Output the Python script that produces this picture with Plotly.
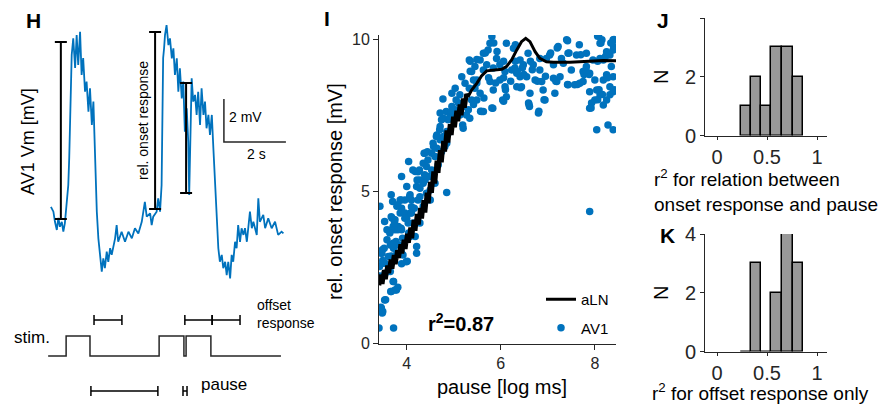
import plotly.graph_objects as go

W, H = 887, 404
PAGE_PAD = 8  # default body margin of the html page
FONT = "Liberation Sans, Arial, Helvetica, sans-serif"
BLUE = "#0072BD"
AXC = "#262626"

# ---------------- H: example AV1 recording (time [s], Vm rel. baseline [mV])
trace_t = [0.03, 0.11, 0.16, 0.22, 0.27, 0.32, 0.38, 0.43, 0.48, 0.52, 0.56, 0.59,
           0.62, 0.65, 0.67, 0.70, 0.75, 0.81, 0.86, 0.91, 0.97, 1.02, 1.07, 1.13,
           1.18, 1.24, 1.29, 1.35, 1.40, 1.43, 1.47, 1.51, 1.56, 1.61, 1.67, 1.72,
           1.77, 1.83, 1.88, 1.94, 1.99, 2.10, 2.15, 2.20, 2.31, 2.42, 2.53, 2.64,
           2.74, 2.85, 2.96, 3.06, 3.12, 3.23, 3.28, 3.33, 3.44, 3.49, 3.55, 3.60,
           3.63, 3.65, 3.68, 3.71, 3.76, 3.82, 3.87, 3.93, 3.98, 4.03, 4.09, 4.14,
           4.19, 4.25, 4.30, 4.35, 4.41, 4.46, 4.49, 4.54, 4.57, 4.62, 4.68, 4.73,
           4.78, 4.84, 4.89, 4.95, 5.00, 5.05, 5.11, 5.16, 5.22, 5.27, 5.32, 5.38,
           5.43, 5.48, 5.54, 5.59, 5.65, 5.70, 5.75, 5.81, 5.86, 5.91, 5.97, 6.02,
           6.07, 6.13, 6.18, 6.24, 6.29, 6.35, 6.45, 6.51, 6.56, 6.67, 6.72, 6.77,
           6.88, 6.94, 7.04, 7.15, 7.26, 7.36, 7.47, 7.53]
trace_vm = [0.70, 0.48, 0.01, -0.37, 0.19, -0.22, 0.01, -0.45, -0.05, 0.48, 1.10, 1.72,
            2.98, 5.30, 6.84, 7.77, 8.54, 7.16, 8.70, 7.30, 8.85, 6.84, 7.63, 6.06,
            6.53, 5.13, 6.22, 4.51, 5.60, 3.89, 2.19, 0.48, -0.76, -1.53, -2.31, -1.69,
            -2.15, -1.38, -1.85, -1.22, -1.53, -0.76, -0.14, -0.92, -0.45, -0.92, -0.45, -0.76,
            -0.29, -0.53, 0.01, 0.94, 0.25, 0.40, -0.14, 0.25, 0.48, 1.10, 0.48, 1.72,
            4.51, 7.63, 8.08, 8.70, 9.16, 8.23, 8.54, 7.61, 8.08, 6.84, 7.61, 6.06,
            7.15, 5.75, 6.53, 4.20, 5.29, 3.73, 1.26, 4.20, 6.68, 5.60, 5.91, 4.98,
            6.06, 4.51, 6.22, 4.98, 5.60, 4.36, 4.98, 4.05, 4.98, 3.43, 1.87, 0.01,
            -1.22, -1.85, -1.53, -2.15, -1.85, -2.47, -1.85, -2.62, -1.53, -1.85, -0.92, -1.22,
            -0.14, -0.92, -0.29, -0.60, -0.29, -0.92, 0.48, -0.29, 0.01, -0.60, 1.10, 0.01,
            0.33, -0.29, 0.17, -0.29, 0.01, -0.60, -0.45, -0.53]

# rel. onset response markers: time [s], bottom and top [mV]
onset_t = [0.35, 3.39, 4.39]
onset_lo = [0.14, 0.60, 1.35]
onset_hi = [8.37, 8.84, 6.47]

# scale bar: 2 s / 2 mV
scale_t0, scale_v0, scale_dt, scale_dv = 5.61, 3.72, 2.0, 2.0

# stimulus steps (time [s], on/off)
stim_t = [-0.06, 0.52, 1.29, 3.52, 4.32, 4.39, 5.19, 7.45]
stim_on = [0, 1, 0, 1, 0, 1, 0, 0]
offset_start = [1.42, 4.35, 5.23]
offset_end = [2.32, 5.23, 6.13]
pause_start = [1.32, 4.29]
pause_end = [3.48, 4.42]

# ---------------- I: onset response vs pause
av1_pause = [3.41, 3.72, 3.45, 3.48, 3.55, 3.66, 3.75, 3.81, 3.72, 3.43, 3.42, 3.49, 3.48, 3.52,
             3.61, 3.67, 3.43, 3.67, 3.70, 3.69, 3.69, 3.75, 3.82, 3.89, 3.65, 3.77, 3.84, 3.91,
             3.72, 4.01, 3.89, 3.75, 3.86, 3.89, 3.96, 4.04, 3.89, 4.00, 4.07, 4.10, 4.08, 4.21,
             4.21, 4.07, 4.18, 4.00, 4.14, 4.28, 4.16, 4.28, 4.35, 4.21, 4.18, 4.27, 4.37, 4.44,
             4.53, 4.35, 4.46, 4.39, 4.50, 4.60, 4.67, 4.60, 4.64, 4.71, 4.64, 4.78, 4.85, 4.85,
             4.81, 4.88, 4.93, 4.78, 4.99, 5.03, 4.96, 5.05, 4.77, 5.13, 5.20, 5.19, 5.13, 5.27,
             5.17, 5.24, 5.33, 5.42, 5.49, 5.38, 5.33, 5.45, 5.56, 5.63, 5.77, 5.81, 5.73, 5.63,
             5.77, 5.84, 5.63, 5.83, 5.98, 6.09, 6.12, 6.04, 6.12, 6.27, 6.30, 6.41, 6.44, 6.61,
             6.59, 6.80, 6.94, 6.90, 6.87, 6.73, 6.69, 6.83, 7.04, 7.22, 7.40, 7.43, 7.61, 7.43,
             7.57, 7.68, 7.26, 7.19, 7.75, 7.89, 8.04, 7.89, 8.11, 8.00, 7.93, 7.89, 7.89, 8.04,
             8.28, 8.39, 8.18, 8.25, 8.35, 8.39, 8.32, 8.39, 8.08, 8.15, 8.39, 8.40, 8.25, 8.11,
             7.82, 7.29, 7.12, 6.97, 6.58, 6.48, 6.34, 6.23, 6.09, 5.98, 5.91, 5.84, 5.70, 5.45,
             5.56, 5.38, 5.31, 3.58, 3.58, 3.47, 3.54, 3.79, 3.86, 3.79, 3.96, 4.04, 3.89, 3.65,
             3.54, 4.42, 4.50, 4.28, 4.53, 4.42, 4.57, 4.71, 4.74, 4.85, 4.88, 4.71, 4.71, 4.84,
             4.96, 5.03, 5.10, 5.34, 5.49, 6.41, 6.55, 6.34, 6.62, 6.83, 7.12, 7.15, 7.33, 7.50,
             7.75, 7.82, 7.96, 8.18, 8.32, 8.39, 8.11, 8.00, 8.25, 8.18, 8.32,
             5.85, 6.31, 5.92, 5.67, 5.49, 5.35, 6.06, 6.31, 6.46, 6.63, 6.67, 7.20, 7.06, 7.42,
             7.67, 7.45, 7.70, 8.06, 8.13, 8.34, 8.41, 8.23, 8.06, 5.35, 5.49, 5.74, 5.89, 6.06,
             6.21, 6.35, 6.49, 6.78, 6.95, 7.17, 7.42, 7.63, 7.77, 7.88, 7.81, 8.27, 8.41, 8.09,
             8.16, 8.06, 7.92, 6.06, 6.10, 6.42, 6.60, 6.81, 6.92, 5.64, 5.81, 5.42, 5.57,
             4.13, 4.24, 4.22, 4.38, 4.35, 4.38, 4.45, 4.56, 4.63, 4.70, 4.74, 4.92, 4.95, 5.13,
             5.20, 5.59, 3.88, 4.06, 3.81, 4.10, 3.71, 3.96, 4.10, 3.67, 4.24, 4.28, 4.49, 4.56,
             3.46, 3.49, 3.42, 3.71, 3.67, 3.78, 3.53, 3.46, 3.49, 3.64, 3.81, 3.71, 3.92, 3.99,
             3.53, 3.74, 3.88, 4.03]
av1_onset = [0.50, 0.50, 1.18, 0.99, 1.43, 1.70, 1.75, 1.84, 2.03, 2.21, 2.52, 2.72, 3.07, 3.12,
             2.85, 2.87, 4.50, 4.88, 4.66, 4.11, 3.73, 3.73, 3.84, 3.73, 3.23, 3.34, 3.23, 3.45,
             3.12, 2.69, 2.61, 4.06, 4.28, 4.44, 4.71, 5.98, 5.48, 5.15, 4.88, 4.71, 4.28, 2.96,
             3.18, 3.51, 3.51, 4.11, 3.95, 3.95, 4.44, 4.82, 4.50, 5.15, 5.65, 5.70, 6.25, 6.30,
             6.25, 5.92, 5.48, 5.37, 5.04, 5.26, 5.87, 6.14, 6.41, 6.69, 6.85, 6.80, 4.96, 6.96,
             6.47, 7.35, 7.40, 7.40, 7.51, 7.68, 7.79, 8.00, 8.03, 8.17, 7.79, 7.18, 7.51, 7.51,
             8.77, 8.55, 8.39, 8.66, 8.66, 8.94, 9.32, 9.10, 9.32, 9.54, 9.87, 10.09, 9.65, 8.99,
             8.61, 8.33, 7.62, 7.73, 8.66, 8.44, 8.11, 8.00, 9.87, 9.70, 9.05, 9.32, 8.44, 7.79,
             7.90, 7.57, 8.00, 8.33, 8.61, 8.66, 9.16, 8.99, 9.48, 9.76, 9.98, 9.54, 9.48, 8.50,
             8.50, 8.55, 8.77, 8.61, 8.94, 8.88, 8.33, 8.27, 8.17, 8.00, 7.90, 7.73, 4.33, 7.02,
             7.18, 7.02, 8.66, 8.83, 9.10, 8.77, 8.44, 8.27, 10.14, 9.98, 9.98, 9.76, 9.59, 9.37,
             9.54, 9.37, 9.16, 9.37, 9.54, 9.16, 8.88, 8.99, 8.94, 9.16, 9.37, 9.05, 9.16, 8.39,
             8.22, 8.00, 7.68, 3.73, 3.40, 2.96, 2.63, 2.96, 4.71, 4.50, 4.28, 3.62, 2.96, 2.36,
             2.30, 4.93, 4.71, 5.37, 5.70, 5.81, 6.47, 6.14, 6.30, 6.58, 6.91, 7.13, 7.57, 7.62,
             8.22, 8.39, 7.90, 7.40, 8.00, 8.77, 8.77, 8.44, 8.22, 9.37, 8.72, 8.22, 9.21, 8.99,
             8.61, 9.10, 9.32, 9.32, 9.48, 9.65, 9.87, 8.66, 8.00, 7.84, 8.17,
             9.88, 9.82, 9.60, 9.55, 9.33, 9.28, 9.28, 9.28, 9.06, 9.28, 9.00, 9.71, 9.55, 9.95,
             9.82, 9.55, 9.49, 10.10, 9.88, 9.88, 9.99, 9.44, 9.28, 8.95, 8.56, 8.73, 8.56, 8.73,
             8.62, 8.95, 8.84, 8.62, 8.78, 8.62, 8.51, 8.51, 8.84, 8.84, 9.00, 8.73, 8.34, 8.34,
             8.18, 8.01, 7.74, 7.96, 8.34, 8.40, 7.85, 7.63, 8.01, 8.07, 7.74, 7.85, 7.63,
             5.70, 5.64, 5.37, 5.54, 5.26, 6.25, 6.03, 6.58, 6.80, 7.02, 7.35, 7.45, 7.62, 7.57,
             7.07, 7.62, 4.71, 4.82, 4.55, 4.49, 3.84, 4.11, 4.28, 4.16, 4.71, 5.10, 5.48, 5.59,
             2.96, 2.63, 2.08, 2.03, 1.70, 1.75, 1.42, 1.15, 1.04, 3.62, 3.73, 3.29, 2.90, 2.68,
             4.00, 3.95, 3.78, 3.95]

# aLN model prediction (jagged rise, smooth plateau)
aln_pause = [3.41, 3.45, 3.48, 3.52, 3.55, 3.59, 3.62, 3.66, 3.69, 3.73, 3.76, 3.80, 3.83,
             3.87, 3.90, 3.94, 3.97, 4.01, 4.04, 4.08, 4.11, 4.15, 4.18, 4.22, 4.25, 4.29,
             4.32, 4.36, 4.39, 4.43, 4.46, 4.50, 4.53, 4.57, 4.60, 4.64, 4.67, 4.71, 4.74,
             4.78, 4.81, 4.85, 4.88, 4.92, 4.95, 4.99, 5.02, 5.06, 5.09, 5.13, 5.16, 5.20,
             5.23, 5.27, 5.30, 5.38, 5.49, 5.59, 5.70, 5.84, 6.02, 6.12, 6.23, 6.34, 6.44,
             6.53, 6.62, 6.73, 6.83, 6.97, 7.12, 7.47, 7.82, 8.18, 8.45]
aln_onset = [1.90, 2.25, 1.95, 2.40, 2.10, 2.55, 2.30, 2.75, 2.45, 2.90, 2.60, 3.05, 2.80,
             3.25, 2.95, 3.40, 3.10, 3.60, 3.30, 3.80, 3.45, 4.05, 3.70, 4.25, 3.90, 4.45,
             4.10, 4.70, 4.30, 4.95, 4.60, 5.30, 4.95, 5.65, 5.25, 6.00, 5.60, 6.35, 5.95,
             6.65, 6.30, 7.00, 6.60, 7.20, 6.85, 7.45, 7.10, 7.65, 7.30, 7.85, 7.50, 8.05,
             7.75, 8.20, 8.10, 8.33, 8.55, 8.79, 8.96, 8.99, 9.01, 9.10, 9.32, 9.65, 9.92,
             10.03, 9.92, 9.59, 9.37, 9.26, 9.24, 9.24, 9.26, 9.30, 9.29]
aln_jagged_n = 55  # first samples form the noisy rise
r2_text = "r<sup>2</sup>=0.87"

# ---------------- J / K: r^2 histograms
bin_edges = [0.24, 0.343, 0.443, 0.543, 0.65, 0.757, 0.857]
counts_onset = [1, 2, 1, 3, 3, 2]
counts_offset = [0, 3, 0, 2, 4, 3]
bin_mid = [(a + b) / 2 for a, b in zip(bin_edges[:-1], bin_edges[1:])]
bin_w = [b - a for a, b in zip(bin_edges[:-1], bin_edges[1:])]


# page pixel -> paper coordinate (figure sits PAGE_PAD px into the page)
def px(x):
    return (x - PAGE_PAD) / W


def py(y):
    return 1 - (y - PAGE_PAD) / H


fig = go.Figure()

# --- H trace
fig.add_trace(go.Scatter(x=trace_t, y=trace_vm, mode="lines",
                         line=dict(color=BLUE, width=1.8), showlegend=False,
                         xaxis="x", yaxis="y"))
fig.add_trace(go.Scatter(
    x=onset_t, y=[(a + b) / 2 for a, b in zip(onset_lo, onset_hi)], mode="markers",
    marker=dict(size=1, color="rgba(0,0,0,0)"),
    error_y=dict(type="data", array=[(b - a) / 2 for a, b in zip(onset_lo, onset_hi)],
                 color="black", thickness=2, width=6),
    showlegend=False, xaxis="x", yaxis="y"))
fig.add_trace(go.Scatter(
    x=[scale_t0, scale_t0, scale_t0 + scale_dt],
    y=[scale_v0 + scale_dv, scale_v0, scale_v0], mode="lines",
    line=dict(color=AXC, width=1.5), showlegend=False, xaxis="x", yaxis="y"))

# --- stimulus
fig.add_trace(go.Scatter(x=stim_t, y=stim_on, mode="lines", line_shape="hv",
                         line=dict(color=AXC, width=1.5), showlegend=False,
                         xaxis="x", yaxis="y2"))
for starts, ends, lvl in [(offset_start, offset_end, 1.8), (pause_start, pause_end, -1.75)]:
    fig.add_trace(go.Scatter(
        x=[(a + b) / 2 for a, b in zip(starts, ends)], y=[lvl] * len(starts),
        mode="markers", marker=dict(size=1, color="rgba(0,0,0,0)"),
        error_x=dict(type="data", array=[(b - a) / 2 for a, b in zip(starts, ends)],
                     color="black", thickness=1.5, width=5),
        showlegend=False, xaxis="x", yaxis="y2"))

# --- I scatter + model
fig.add_trace(go.Scatter(x=av1_pause, y=av1_onset, mode="markers", name="AV1",
                         marker=dict(color=BLUE, size=7.5), legendrank=2,
                         legendgroup="b", xaxis="x3", yaxis="y3"))
fig.add_trace(go.Scatter(x=aln_pause[:aln_jagged_n], y=aln_onset[:aln_jagged_n],
                         mode="lines", line=dict(color="black", width=4.5),
                         showlegend=False, xaxis="x3", yaxis="y3"))
fig.add_trace(go.Scatter(x=aln_pause[aln_jagged_n - 1:], y=aln_onset[aln_jagged_n - 1:],
                         mode="lines", name="aLN", line=dict(color="black", width=3),
                         legendrank=1, legendgroup="a", xaxis="x3", yaxis="y3"))

# --- J / K histograms
for counts, xa, ya in [(counts_onset, "x4", "y4"), (counts_offset, "x5", "y5")]:
    fig.add_trace(go.Bar(x=bin_mid, y=counts, width=bin_w,
                         marker=dict(color="#999999", line=dict(color="black", width=1.5)),
                         showlegend=False, xaxis=xa, yaxis=ya))

# H axes (hidden) : trace origin at pixel (50, 222), 31 px/s, 21.5 px/mV
T_PX, V_PX, X0, Y0 = 31.0, 21.5, 50.0, 222.0
hidden = dict(visible=False, showgrid=False, zeroline=False, automargin=False)
fig.update_layout(
    xaxis=dict(domain=[px(40), px(300)], range=[(40 - X0) / T_PX, (300 - X0) / T_PX],
               anchor="y", **hidden),
    yaxis=dict(domain=[py(290), py(20)], range=[(Y0 - 290) / V_PX, (Y0 - 20) / V_PX],
               anchor="x", **hidden),
    yaxis2=dict(domain=[py(404), py(300)], range=[-2.4, 2.6 + (404 - 400) / 20],
                anchor="x", **hidden),
)

axis_style = dict(showline=True, linecolor=AXC, linewidth=1, ticks="outside",
                  tickcolor=AXC, showgrid=False, zeroline=False, automargin=False,
                  tickfont=dict(family=FONT, color=AXC))
fig.update_layout(
    xaxis3=dict(domain=[px(379), px(616)], range=[3.41, 8.45], tickvals=[4, 6, 8],
                ticklen=5, anchor="y3", **axis_style),
    yaxis3=dict(domain=[py(344), py(35)], range=[-0.03, 10.14], tickvals=[0, 5, 10],
                ticklen=5, anchor="x3", **axis_style),
    xaxis4=dict(domain=[px(705), px(827)], range=[-0.12, 1.10], tickvals=[0, 0.5, 1],
                ticktext=["0", "0.5", "1"], ticklen=3, anchor="y4", **axis_style),
    yaxis4=dict(domain=[py(135.5), py(18)], range=[0, 4], tickvals=[0, 2, 4],
                ticklen=4, anchor="x4", **axis_style),
    xaxis5=dict(domain=[px(705), px(827)], range=[-0.12, 1.10], tickvals=[0, 0.5, 1],
                ticktext=["0", "0.5", "1"], ticklen=3, anchor="y5", **axis_style),
    yaxis5=dict(domain=[py(351.5), py(234)], range=[0, 4], tickvals=[0, 2, 4],
                ticklen=4, anchor="x5", **axis_style),
)
fig.layout.xaxis3.tickfont.size = 16
fig.layout.yaxis3.tickfont.size = 16
for ax in ["xaxis4", "yaxis4", "xaxis5", "yaxis5"]:
    fig.layout[ax].tickfont.size = 20


def label(text, x, y, size, bold=False, angle=0, xanchor="center", align="center"):
    fig.add_annotation(text=f"<b>{text}</b>" if bold else text, x=px(x), y=py(y),
                       xref="paper", yref="paper", showarrow=False, textangle=angle,
                       xanchor=xanchor, yanchor="middle", align=align,
                       font=dict(family=FONT, size=size, color="black"))


label("H", 33, 20, 21, bold=True)
label("AV1 Vm [mV]", 28, 142, 18, angle=-90)
label("rel. onset response", 143, 121, 14, angle=-90)
label("2 mV", 227, 117, 14, xanchor="left")
label("2 s", 256, 154, 14)
label("stim.", 32, 337, 17)
label("offset<br>response", 255, 314, 14, xanchor="left", align="left")
label("pause", 199, 384, 17, xanchor="left")

label("I", 327, 18, 21, bold=True)
label("rel. onset response [mV]", 335, 192, 20, angle=-90)
label("pause [log ms]", 502, 387, 20)
label(r2_text, 461, 322, 20, bold=True)

label("J", 663, 20, 21, bold=True)
label("N", 661, 77, 20, angle=-90)
label("r<sup>2</sup> for relation between<br>onset response and pause", 652, 191, 19,
      xanchor="left", align="left")
label("K", 667, 236, 21, bold=True)
label("N", 661, 293, 20, angle=-90)
label("r<sup>2</sup> for offset response only", 650, 392, 19, xanchor="left")

fig.update_layout(
    width=W, height=H, margin=dict(l=0, r=0, t=0, b=0),
    paper_bgcolor="white", plot_bgcolor="white", bargap=0,
    font=dict(family=FONT, color="black"),
    legend=dict(x=px(541), y=py(283), xanchor="left", yanchor="top",
                bgcolor="rgba(0,0,0,0)", font=dict(size=15, family=FONT),
                traceorder="grouped", tracegroupgap=6),
)

fig.write_html("out.html")
